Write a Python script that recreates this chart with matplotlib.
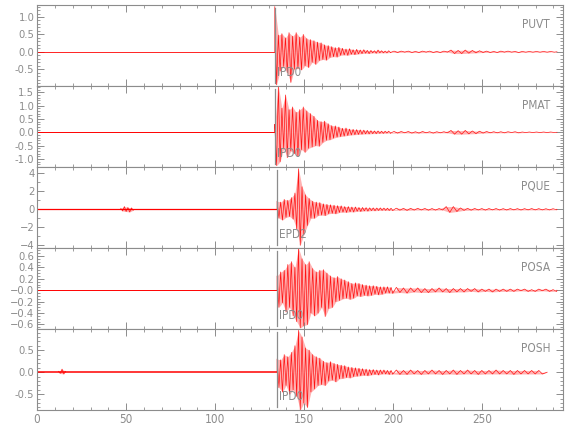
import numpy as np
import matplotlib
matplotlib.use("Agg")
import matplotlib.pyplot as plt
from matplotlib.ticker import MultipleLocator, FuncFormatter

plt.rcParams['font.family'] = ['DejaVu Sans']
plt.rcParams['font.stretch'] = 'condensed'

stations = ["PUVT", "PMAT", "PQUE", "POSA", "POSH"]
pick_labels = ["IPD0", "IPD0", "EPD2", "IPD0", "IPD0"]
pick_times = [133.5, 133.5, 134.8, 134.8, 134.8]
end_times = [292.0, 292.0, 292.0, 292.0, 286.5]

# coda: one peak per second from the pick
puvt_coda = [1.30, -0.95, 0.48, -0.55, 0.52, -0.42, 0.40, -0.60, 0.55, -0.88,
             0.45, -0.50, 0.55, -0.48, 0.42, -0.52, 0.50, -0.40, 0.38, -0.45,
             0.35, -0.30, 0.32, -0.36, 0.28, -0.25, 0.26, -0.22, 0.20, -0.24,
             0.18, -0.16, 0.15, -0.14, 0.12, -0.15, 0.13, -0.10, 0.10, -0.09,
             0.08, -0.10, 0.09, -0.07, 0.06, -0.08, 0.07, -0.06, 0.05, -0.05,
             0.06, -0.04, 0.04, -0.05, 0.04, -0.03, 0.03, -0.04, 0.05, -0.03,
             0.03, -0.03, 0.02, -0.03, 0.03, -0.02]
pmat_coda = [0.30, -1.25, 1.74, -1.10, 0.90, -0.60, 1.40, -0.95, 0.85, -0.70,
             0.95, -0.80, 0.75, -0.90, 0.85, -0.65, 0.95, -0.75, 0.80, -0.60,
             0.70, -0.55, 0.60, -0.50, 0.45, -0.52, 0.40, -0.38, 0.42, -0.30,
             0.32, -0.28, 0.25, -0.22, 0.24, -0.18, 0.20, -0.16, 0.15, -0.14,
             0.16, -0.12, 0.12, -0.10, 0.11, -0.09, 0.10, -0.08, 0.09, -0.07,
             0.08, -0.06, 0.07, -0.06, 0.06, -0.05, 0.05, -0.05, 0.05, -0.04,
             0.04, -0.04, 0.04, -0.03, 0.04, -0.03]
pque_coda = [0.9, -1.0, 0.8, -1.2, 1.1, -0.9, 1.0, -0.8, 1.3, -1.1,
             1.8, -2.2, 4.5, -4.0, 2.5, -2.8, 1.6, -1.8, 1.2, -1.0,
             0.9, -1.0, 0.8, -0.7, 0.75, -0.65, 0.6, -0.7, 0.55, -0.5,
             0.5, -0.45, 0.45, -0.5, 0.4, -0.35, 0.38, -0.32, 0.3, -0.35,
             0.3, -0.28, 0.25, -0.3, 0.25, -0.22, 0.2, -0.24, 0.2, -0.18,
             0.18, -0.2, 0.16, -0.15, 0.15, -0.16, 0.14, -0.13, 0.15, -0.12,
             0.13, -0.12, 0.12, -0.13, 0.11, -0.12]
posa_coda = [0.25, -0.30, 0.32, -0.22, 0.35, -0.38, 0.45, -0.30, 0.50, -0.45,
             0.40, -0.55, 0.74, -0.66, 0.55, -0.62, 0.45, -0.60, 0.50, -0.40,
             0.38, -0.45, 0.32, -0.40, 0.35, -0.30, 0.36, -0.46, 0.30, -0.32,
             0.25, -0.30, 0.22, -0.20, 0.24, -0.18, 0.20, -0.15, 0.18, -0.14,
             0.15, -0.16, 0.12, -0.14, 0.13, -0.10, 0.12, -0.11, 0.10, -0.09,
             0.09, -0.10, 0.08, -0.09, 0.08, -0.07, 0.07, -0.08, 0.06, -0.07,
             0.06, -0.05, 0.06, -0.05, 0.05, -0.05]
posh_coda = [0.30, -0.35, 0.28, -0.45, 0.40, -0.30, 0.35, -0.50, 0.45, -0.40,
             0.60, -0.55, 0.95, -0.86, 0.80, -0.70, 0.55, -0.80, 0.50, -0.45,
             0.40, -0.38, 0.35, -0.30, 0.32, -0.28, 0.25, -0.30, 0.22, -0.20,
             0.24, -0.18, 0.20, -0.22, 0.18, -0.15, 0.16, -0.14, 0.15, -0.12,
             0.12, -0.13, 0.11, -0.10, 0.10, -0.09, 0.09, -0.08, 0.08, -0.07,
             0.07, -0.08, 0.06, -0.06, 0.06, -0.05, 0.05, -0.06, 0.05, -0.04,
             0.05, -0.04, 0.04, -0.05, 0.04, -0.04]

# tail: one peak per two seconds after the coda
puvt_tail = [0.02, -0.02, 0.02, -0.01, 0.02, -0.02, 0.01, -0.02, 0.02, -0.01,
             0.02, -0.02, 0.01, -0.02, 0.02, -0.01, 0.05, -0.05, 0.04, -0.05,
             0.05, -0.04, 0.04, -0.03, 0.03, -0.02, 0.02, -0.02, 0.01, -0.02,
             0.02, -0.01, 0.02, -0.01, 0.01, -0.02, 0.01, -0.01, 0.01, -0.01,
             0.01, -0.01, 0.01, -0.01, 0.01, -0.01]
pmat_tail = [0.03, -0.03, 0.03, -0.02, 0.03, -0.03, 0.02, -0.03, 0.03, -0.02,
             0.02, -0.03, 0.02, -0.02, 0.02, -0.02, 0.07, -0.07, 0.06, -0.07,
             0.07, -0.06, 0.05, -0.05, 0.04, -0.03, 0.03, -0.02, 0.02, -0.02,
             0.02, -0.02, 0.02, -0.01, 0.02, -0.02, 0.01, -0.01, 0.01, -0.01,
             0.01, -0.01, 0.01, -0.01, 0.01, -0.01]
pque_tail = [0.12, -0.10, 0.10, -0.12, 0.10, -0.09, 0.10, -0.08, 0.09, -0.10,
             0.08, -0.09, 0.08, -0.08, 0.30, -0.35, 0.30, -0.25, 0.15, -0.12,
             0.10, -0.10, 0.09, -0.08, 0.08, -0.09, 0.08, -0.07, 0.08, -0.08,
             0.07, -0.08, 0.08, -0.07, 0.07, -0.08, 0.07, -0.07, 0.08, -0.07,
             0.07, -0.07, 0.06, -0.07, 0.06, -0.06]
posa_tail = [0.05, -0.04, 0.04, -0.05, 0.04, -0.03, 0.04, -0.04, 0.03, -0.04,
             0.03, -0.03, 0.04, -0.03, 0.03, -0.04, 0.03, -0.03, 0.03, -0.03,
             0.03, -0.02, 0.03, -0.03, 0.02, -0.02, 0.02, -0.03, 0.02, -0.02,
             0.02, -0.02, 0.02, -0.02, 0.02, -0.01, 0.02, -0.02, 0.01, -0.02,
             0.02, -0.01, 0.02, -0.02, 0.01, -0.02]
posh_tail = [0.05, -0.05, 0.04, -0.05, 0.05, -0.04, 0.04, -0.05, 0.04, -0.04,
             0.05, -0.04, 0.04, -0.05, 0.04, -0.04, 0.05, -0.05, 0.04, -0.04,
             0.05, -0.04, 0.04, -0.05, 0.04, -0.04, 0.04, -0.04, 0.05, -0.04,
             0.04, -0.04, 0.04, -0.05, 0.04, -0.04, 0.04, -0.04, 0.04, -0.04,
             0.04, -0.04]

# small early wiggles before the pick
pque_early_t = [47, 48, 49, 50, 51, 52, 53, 54]
pque_early = [0.10, -0.20, 0.30, -0.25, 0.20, -0.30, 0.15, -0.10]
posh_early_t = [12, 13, 14, 15, 16]
posh_early = [0.02, -0.03, 0.07, -0.04, 0.02]

codas = [puvt_coda, pmat_coda, pque_coda, posa_coda, posh_coda]
tails = [puvt_tail, pmat_tail, pque_tail, posa_tail, posh_tail]

ylims = [(-0.98, 1.35), (-1.30, 1.74), (-4.3, 4.7), (-0.68, 0.74), (-0.86, 0.98)]
ymajor = [0.5, 0.5, 2, 0.2, 0.5]
yminor = [0.1, 0.1, 1, 0.05, 0.1]
base_lw = [0.6, 0.7, 0.9, 0.7, 1.1]

grey = '#8c8c8c'
red = '#ff0000'


def draw_trace(ax, t, v, lw=0.5):
    t = np.asarray(t, dtype=float)
    v = np.asarray(v, dtype=float)
    up = v > 0
    ax.fill_between(t[up], v[up], 0, color=red, alpha=0.3, lw=0)
    ax.fill_between(t[~up], v[~up], 0, color=red, alpha=0.3, lw=0)
    ax.plot(t, v, color=red, lw=lw, alpha=0.9)


fig, axes = plt.subplots(5, 1, figsize=(5.8, 4.4), dpi=100, sharex=True)
fig.subplots_adjust(left=0.064, right=0.971, top=0.989, bottom=0.068, hspace=0)

for i, ax in enumerate(axes):
    t0 = pick_times[i]
    coda = codas[i]
    tail = tails[i]
    t_coda = t0 + np.arange(len(coda))
    t_tail = t_coda[-1] + 2 + 2 * np.arange(len(tail))

    ax.plot([0, t0], [0, 0], color=red, lw=base_lw[i])
    draw_trace(ax, np.r_[t0, t_coda], np.r_[0, coda])
    draw_trace(ax, np.r_[t_coda[-1], t_tail, end_times[i]], np.r_[coda[-1], tail, 0])
    if stations[i] == "PQUE":
        draw_trace(ax, pque_early_t, pque_early)
    if stations[i] == "POSH":
        draw_trace(ax, posh_early_t, posh_early)

    ax.axvline(t0, ymin=0.04, ymax=0.96, color=grey, lw=0.9)
    ax.text(t0 + 1.0, 0.17, pick_labels[i], transform=ax.get_xaxis_transform(),
            color=grey, fontsize=8.5, va='center', ha='left', zorder=6)
    ax.text(0.975, 0.76, stations[i], transform=ax.transAxes,
            color=grey, fontsize=8.5, va='center', ha='right', zorder=6)

    ax.set_xlim(0, 295.5)
    ax.set_ylim(*ylims[i])
    ax.xaxis.set_major_locator(MultipleLocator(50))
    ax.xaxis.set_minor_locator(MultipleLocator(10))
    ax.yaxis.set_major_locator(MultipleLocator(ymajor[i]))
    ax.yaxis.set_minor_locator(MultipleLocator(yminor[i]))
    ax.tick_params(which='both', direction='in', top=True, right=True,
                   colors=grey, labelsize=8, labelcolor=grey, pad=2)
    ax.tick_params(which='major', length=5, width=0.7)
    ax.tick_params(which='minor', length=2.5, width=0.6)
    for s in ax.spines.values():
        s.set_color(grey)
        s.set_linewidth(0.8)
    if i < 4:
        ax.tick_params(labelbottom=False)

axes[2].set_yticks([-4, -2, 0, 2, 4])
one_dec = FuncFormatter(lambda v, p: '%.1f' % v)
for k in (0, 1, 4):
    axes[k].yaxis.set_major_formatter(one_dec)
# POSA axis shows its zero as "-0.0"
axes[3].yaxis.set_major_formatter(
    FuncFormatter(lambda v, p: '\u22120.0' if abs(v) < 1e-9 else ('%.1f' % v).replace('-', '\u2212')))
axes[4].tick_params(axis='x', labelsize=8.5)

fig.savefig('out.png', dpi=100)
